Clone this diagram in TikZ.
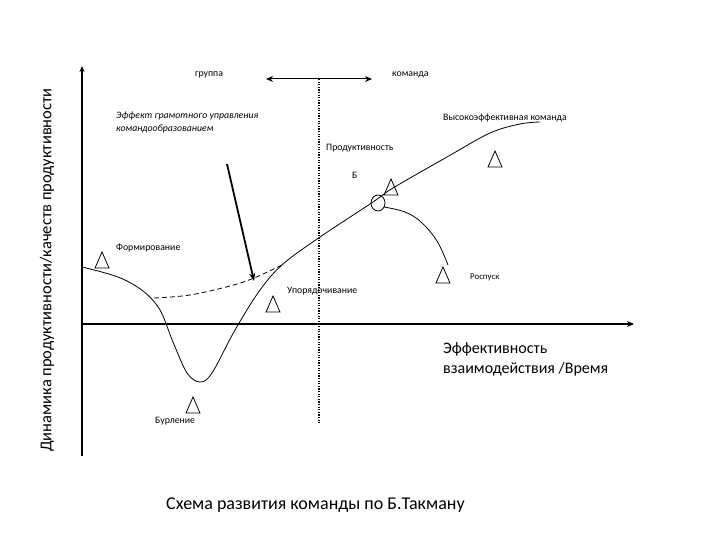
\documentclass[tikz,border=0pt]{standalone}
\usepackage{fontspec}
\setmainfont{Carlito}
\usetikzlibrary{arrows.meta,shapes.geometric}
\tikzset{
  lbl/.style={inner sep=0pt, anchor=west, font=\fontsize{9.8}{11}\selectfont},
  big/.style={inner sep=0pt, anchor=west, font=\fontsize{16}{19}\selectfont},
  curve/.style={line width=0.8pt},
  axisy/.style={line width=1.2pt, -{Stealth[length=6pt,width=5pt]}},
  axisx/.style={line width=2.2pt, -{Stealth[length=7pt,width=6pt]}},
  tri/.pic={\draw[line width=0.8pt] (-7,8) -- (0,-8) -- (7,8) -- cycle;}
}
\begin{document}
\begin{tikzpicture}[x=1pt,y=-1pt]
\useasboundingbox (0,0) rectangle (720,540);
% axes
\coordinate (o) at (82,324);
\coordinate (ytop) at (82,66);
\coordinate (ybot) at (82,456);
\coordinate (xend) at (634,324);
\draw[axisy] (ybot) -- (ytop);
\draw[axisx] (o) -- (xend);
% dotted divider
\coordinate (dtop) at (319,79);
\coordinate (dbot) at (319,424);
\draw[line width=2pt, dash pattern=on 1.3pt off 1.3pt] (dtop) -- (dbot);
% double arrow
\coordinate (dl) at (266,79);
\coordinate (dr) at (372,79);
\draw[line width=1pt, {Stealth[length=7pt,width=6pt]}-{Stealth[length=7pt,width=6pt]}] (dl) -- (dr);
% texts
\node[lbl] (gr) at (195,75) {группа};
\node[lbl] (kom) at (392,75) {команда};
\node[lbl, font=\fontsize{9.8}{13}\itshape, align=left, anchor=north west] (eff) at (116,112) {Эффект грамотного управления\\командообразованием};
\node[lbl] (vys) at (443,118) {Высокоэффективная команда};
\node[lbl] (prod) at (326,148) {Продуктивность};
\node[lbl] (b) at (352,175) {Б};
\node[lbl] (form) at (116,248) {Формирование};
\node[lbl] (upor) at (287,291) {Упорядочивание};
\node[lbl, font=\fontsize{8.8}{10}\selectfont] (rosp) at (470,277) {Роспуск};
\node[lbl] (burl) at (155,421) {Бурление};
\node[big, align=left, anchor=north west, font=\fontsize{16}{20}\selectfont] (effx) at (443,342) {Эффективность\\взаимодействия /Время};
\node[big, font=\fontsize{18}{21}\selectfont] (title) at (166,505) {Схема развития команды по Б.Такману};
\node[inner sep=0pt, rotate=90, font=\fontsize{16.5}{18}\selectfont] (ylab) at (47,270) {Динамика продуктивности/качеств продуктивности};
% main curve
\draw[curve] plot[smooth, tension=0.55] coordinates {(82,267) (118,277) (143,291) (160,310) (173,342) (187,373) (200,382) (212,373) (235,330) (260,290) (283,264) (320,237) (373,202) (393,188) (447,157) (490,133) (520,124) (540,122)};
% dashed improvement curve
\draw[curve, dashed, dash pattern=on 5pt off 3pt] plot[smooth, tension=0.6] coordinates {(154,298) (190,295) (230,286) (254,278) (282,265)};
% decline curve
\draw[curve] plot[smooth, tension=0.6] coordinates {(384,207) (405,212) (421,222) (437,241) (448,265)};
% circle
\node[draw, line width=0.8pt, ellipse, minimum width=14pt, minimum height=16pt, inner sep=0pt] (circ) at (378,203) {};
% arrow
\coordinate (as) at (227,164);
\coordinate (ae) at (254,281);
\draw[line width=1.8pt, -{Stealth[length=8pt,width=6pt]}] (as) -- (ae);
% triangles
\pic at (102,260) {tri};
\pic at (495,159) {tri};
\pic at (391,187) {tri};
\pic at (443,275) {tri};
\pic at (273,304) {tri};
\pic at (193,405) {tri};
\end{tikzpicture}
\end{document}
